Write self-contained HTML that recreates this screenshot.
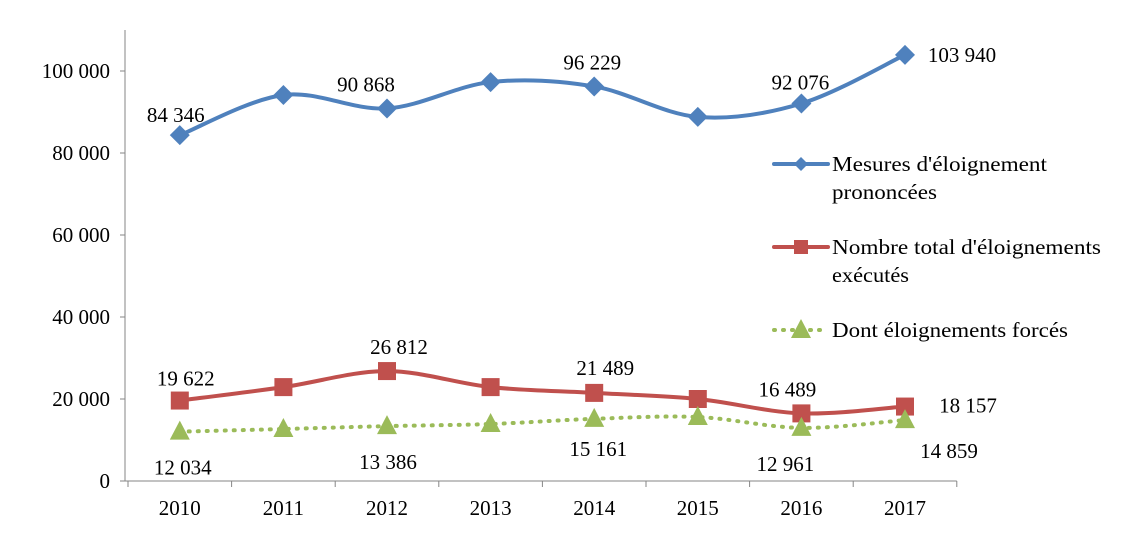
<!DOCTYPE html>
<html><head><meta charset="utf-8">
<style>
html,body{margin:0;padding:0;background:#fff;}
svg{display:block;font-family:"Liberation Serif",serif;}
</style></head>
<body>
<svg id="chart" width="1126" height="550" viewBox="0 0 1126 550">
<g id="axes"></g>
<g id="series"></g>
<g id="legend"></g>
</svg>
<script>
const categories = ["2010","2011","2012","2013","2014","2015","2016","2017"];
const mesures = [84346, 94150, 90868, 97300, 96229, 88800, 92076, 103940];
const totalExec = [19622, 22900, 26812, 22900, 21489, 20000, 16489, 18157];
const forces = [12034, 12680, 13386, 13900, 15161, 15600, 12961, 14859];
const yTicks = [0, 20000, 40000, 60000, 80000, 100000];
const yTickLabels = ["0","20 000","40 000","60 000","80 000","100 000"];
const mesuresLabels = ["84 346",null,"90 868",null,"96 229",null,"92 076","103 940"];
const totalLabels = ["19 622",null,"26 812",null,"21 489",null,"16 489","18 157"];
const forcesLabels = ["12 034",null,"13 386",null,"15 161",null,"12 961","14 859"];

const NS="http://www.w3.org/2000/svg";
const FS=21;
const left=128, catW=103.6, y0=481, yScale=410/100000;
const xs=i=>left+catW*(i+0.5);
const ys=v=>y0-v*yScale;
function mk(tag,attrs,parent,text){const e=document.createElementNS(NS,tag);for(const k in attrs)e.setAttribute(k,attrs[k]);if(text!=null)e.textContent=text;parent.appendChild(e);return e;}
const axes=document.getElementById('axes'),series=document.getElementById('series'),legend=document.getElementById('legend');

let a=mk('line',{x1:125,y1:30,x2:125,y2:y0,stroke:'#868686','stroke-width':1},axes);


a=mk('line',{x1:125,y1:y0,x2:left+catW*categories.length,y2:y0,stroke:'#868686','stroke-width':1},axes);


yTicks.forEach((v,i)=>{
  const t=mk('line',{x1:120,y1:ys(v),x2:125,y2:ys(v),stroke:'#868686'},axes);
  
  
  const l=mk('text',{x:110,y:ys(v)+7,'text-anchor':'end','font-size':FS,fill:'#000'},axes,yTickLabels[i]);
  
  
});
for(let i=0;i<=categories.length;i++){
  const t=mk('line',{x1:left+catW*i,y1:y0,x2:left+catW*i,y2:y0+6,stroke:'#868686'},axes);
  
  
}
categories.forEach((c,i)=>{
  const l=mk('text',{x:xs(i),y:515,'text-anchor':'middle','font-size':FS},axes,c);
  
  
});

function smooth(pts){
  let d=`M${pts[0][0]},${pts[0][1]}`;
  for(let i=0;i<pts.length-1;i++){
    const p0=pts[i-1]||pts[i],p1=pts[i],p2=pts[i+1],p3=pts[i+2]||p2;
    const t=1/6;
    d+=` C${p1[0]+(p2[0]-p0[0])*t},${p1[1]+(p2[1]-p0[1])*t} ${p2[0]-(p3[0]-p1[0])*t},${p2[1]-(p3[1]-p1[1])*t} ${p2[0]},${p2[1]}`;
  }
  return d;
}
function marker(type,x,y,color,parent){
  if(type==='diamond') return mk('polygon',{points:`${x},${y-10} ${x+10},${y} ${x},${y+10} ${x-10},${y}`,fill:color},parent);
  if(type==='square') return mk('rect',{x:x-9,y:y-9,width:18,height:18,fill:color},parent);
  return mk('polygon',{points:`${x},${y-11} ${x+10},${y+8} ${x-10},${y+8}`,fill:color},parent);
}
const seriesDefs=[
  {name:'mesures',vals:mesures,labels:mesuresLabels,color:'#4f81bd',m:'diamond',dash:null,w:4,
   off:[[-4,-20],[0,0],[-21,-24],[0,0],[-2,-24],[0,0],[-1,-21],[57,0]]},
  {name:'total-executes',vals:totalExec,labels:totalLabels,color:'#c0504d',m:'square',dash:null,w:4,
   off:[[6,-22],[0,0],[12,-24],[0,0],[11,-25],[0,0],[-14,-24],[63,-1]]},
  {name:'forces',vals:forces,labels:forcesLabels,color:'#9bbb59',m:'tri',dash:'1,8',w:4,
   off:[[3,36],[0,0],[1,36],[0,0],[4,30],[0,0],[-16,36],[44,31]]}
];
seriesDefs.forEach(s=>{
  const g=mk('g',{},series);
  
  
  const pts=s.vals.map((v,i)=>[xs(i),ys(v)]);
  const attrs={d:smooth(pts),fill:'none',stroke:s.color,'stroke-width':s.w,'stroke-linecap':'round'};
  if(s.dash)attrs['stroke-dasharray']=s.dash;
  const p=mk('path',attrs,g);
  
  
  pts.forEach((pt,i)=>{
    const m=marker(s.m,pt[0],pt[1],s.color,g);
    
    
    if(s.labels[i]){
      const t=mk('text',{x:pt[0]+s.off[i][0],y:pt[1]+s.off[i][1]+7,'text-anchor':'middle','font-size':FS},g,s.labels[i]);
      
      
    }
  });
});
const legendItems=[
  {y:164,color:'#4f81bd',m:'diamond',dash:null,lines:["Mesures d'éloignement","prononcées"],lens:[215,105],name:'legend-mesures'},
  {y:247,color:'#c0504d',m:'square',dash:null,lines:["Nombre total d'éloignements","exécutés"],lens:[269,77],name:'legend-total-executes'},
  {y:330,color:'#9bbb59',m:'tri',dash:'1,8',lines:["Dont éloignements forcés"],lens:[236],name:'legend-forces'}
];
legendItems.forEach(it=>{
  const g=mk('g',{},legend);
  
  
  const at={x1:774,y1:it.y,x2:828,y2:it.y,stroke:it.color,'stroke-width':4,'stroke-linecap':'round'};
  if(it.dash)at['stroke-dasharray']=it.dash;
  mk('line',at,g);
  const mm=marker(it.m,801,it.y,it.color,g);
  if(it.m==='diamond'){mm.setAttribute('points',`801,${it.y-7} 808,${it.y} 801,${it.y+7} 794,${it.y}`);}
  if(it.m==='square'){mm.setAttribute('x',794);mm.setAttribute('y',it.y-7);mm.setAttribute('width',14);mm.setAttribute('height',14);}
  it.lines.forEach((ln,j)=>{
    const t=mk('text',{x:832,y:it.y+7+j*28,'font-size':FS,textLength:it.lens[j],lengthAdjust:'spacingAndGlyphs'},g,ln);
    
    
  });
});
</script>
</body></html>
